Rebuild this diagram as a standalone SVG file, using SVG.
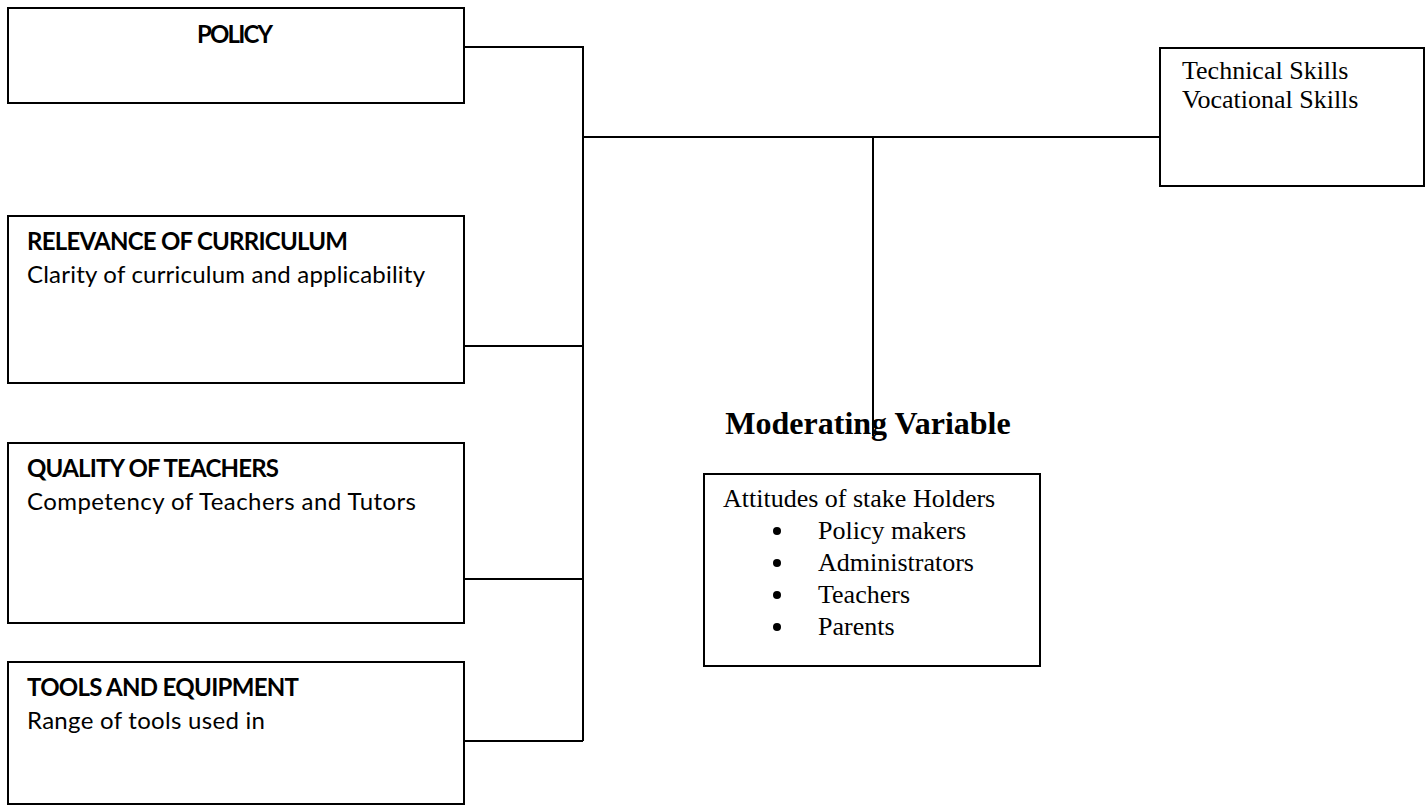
<svg xmlns="http://www.w3.org/2000/svg" width="1426" height="806" viewBox="0 0 1426 806">
<style>
.box{fill:#fff;stroke:#000;stroke-width:2}
.ln{stroke:#000;stroke-width:2;fill:none}
.h{font-family:Lato,"Liberation Sans",sans-serif;font-weight:bold;font-size:24px;fill:#000}
.s{font-family:Lato,"Liberation Sans",sans-serif;font-size:24px;fill:#000}
.t{font-family:"Liberation Serif","Times New Roman",serif;font-size:26px;fill:#000}
.tb{font-family:"Liberation Serif","Times New Roman",serif;font-size:32px;font-weight:bold;fill:#000}
</style>
<rect width="1426" height="806" fill="#fff"/>
<g id="connectors">
<path class="ln" d="M464 47H583V741M464 346H583M464 579H583M464 741H583M583 137H1160M873 137V436"/>
</g>
<g id="policy">
<rect class="box" x="8" y="8" width="456" height="95"/>
<text class="h" x="235" y="43" text-anchor="middle" textLength="76">POLICY</text>
</g>
<g id="relevance">
<rect class="box" x="8" y="216" width="456" height="167"/>
<text class="h" x="27" y="250" textLength="321">RELEVANCE OF CURRICULUM</text>
<text class="s" x="27" y="283" textLength="398">Clarity of curriculum and applicability</text>
</g>
<g id="quality">
<rect class="box" x="8" y="443" width="456" height="180"/>
<text class="h" x="27" y="477" textLength="252">QUALITY OF TEACHERS</text>
<text class="s" x="27" y="510" textLength="389">Competency of Teachers and Tutors</text>
</g>
<g id="tools">
<rect class="box" x="8" y="662" width="456" height="142"/>
<text class="h" x="27" y="696" textLength="272">TOOLS AND EQUIPMENT</text>
<text class="s" x="27" y="729" textLength="238">Range of tools used in</text>
</g>
<g id="skills">
<rect class="box" x="1160" y="48" width="264" height="138"/>
<text class="t" x="1182" y="79">Technical Skills</text>
<text class="t" x="1182" y="108">Vocational Skills</text>
</g>
<g id="moderating-label">
<text class="tb" x="868" y="434" text-anchor="middle">Moderating Variable</text>
</g>
<g id="attitudes">
<rect class="box" x="704" y="474" width="336" height="192"/>
<text class="t" x="723" y="507">Attitudes of stake Holders</text>
<circle cx="777" cy="531" r="4"/>
<circle cx="777" cy="563" r="4"/>
<circle cx="777" cy="595" r="4"/>
<circle cx="777" cy="627" r="4"/>
<text class="t" x="818" y="539">Policy makers</text>
<text class="t" x="818" y="571">Administrators</text>
<text class="t" x="818" y="603">Teachers</text>
<text class="t" x="818" y="635">Parents</text>
</g>
</svg>
